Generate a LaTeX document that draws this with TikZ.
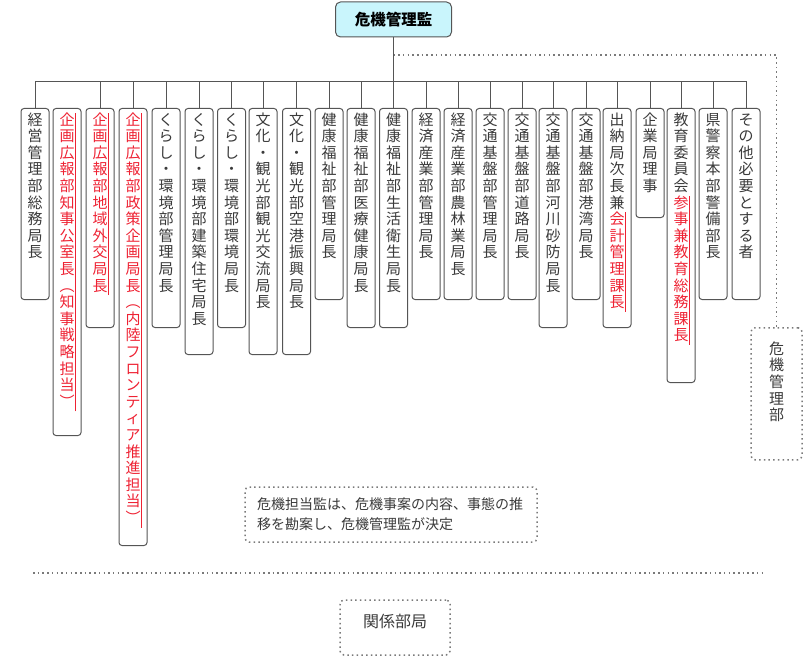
\documentclass[tikz,border=0pt]{standalone}
\usepackage{fontspec}
\setmainfont{Noto Sans CJK JP}

\definecolor{kline}{HTML}{555555}
\definecolor{ktext}{HTML}{3A3A3A}
\definecolor{kred}{HTML}{EE2233}
\definecolor{kcyan}{HTML}{C9F5FC}
\definecolor{kdot}{HTML}{7A7A7A}

\newcommand\vchar[1]{\hbox to 15pt{\vrule height 12.6pt depth 4pt width 0pt\hss#1\hss}}
\newcommand\vcharr[1]{\hbox to 15pt{\vrule height 12.6pt depth 4pt width 0pt\hss\textcolor{kred}{#1}\hss
    \rlap{\color{kred}\vrule height 12.6pt depth 4pt width 0.7pt}}}
\def\vtloop#1{\ifx#1\relax\else\vchar{#1}\expandafter\vtloop\fi}
\def\vtrloop#1{\ifx#1\relax\else\vcharr{#1}\expandafter\vtrloop\fi}
\newcommand\vt[1]{\vtloop#1\relax}
\newcommand\vtr[1]{\vtrloop#1\relax}
\newcommand\vcol[2]{\vbox to #1{\lineskiplimit=-100pt\baselineskip=16.6pt\vskip 4pt #2\vfil}}

\begin{document}
\begin{tikzpicture}[x=1pt,y=-1pt,
    postbox/.style={draw=kline, line width=1pt, rounded corners=3pt, inner sep=0pt,
      minimum width=28pt, anchor=north, text=ktext, font=\fontsize{15pt}{16.6pt}\selectfont},
    chiefbox/.style={draw=kline, line width=1pt, fill=kcyan, rounded corners=5pt,
      minimum width=116pt, minimum height=35pt, text=black,
      font=\bfseries\fontsize{15.5pt}{18pt}\selectfont},
    conn/.style={draw=kline, line width=1pt},
    dotline/.style={draw=kdot, line width=1.5pt, dash pattern=on 1.5pt off 3.2pt},
    dotbox/.style={dotline, rounded corners=4pt, inner sep=0pt, text=ktext}]

  \useasboundingbox (0,0) rectangle (810,658);

  \node[chiefbox] (chief) at (393.5,19.5) {危機管理監};

  \node[postbox] (b1) at (35,108) {\vcol{191pt}{\vt{経営管理部総務局長}}};
  \node[postbox] (b2) at (67,108) {\vcol{327pt}{\vtr{企画広報部知事公室長︵知事戦略担当︶}}};
  \node[postbox] (b3) at (100,108) {\vcol{219pt}{\vtr{企画広報部地域外交局長}}};
  \node[postbox] (b4) at (133,108)
        {\vcol{437pt}{\vtr{企画広報部政策企画局長︵内陸フロンティア推進担当︶}}};
  \node[postbox] (b5) at (166,108) {\vcol{219pt}{\vt{くらし・環境部管理局長}}};
  \node[postbox] (b6) at (199,108) {\vcol{246pt}{\vt{くらし・環境部建築住宅局長}}};
  \node[postbox] (b7) at (231.5,108) {\vcol{219pt}{\vt{くらし・環境部環境局長}}};
  \node[postbox] (b8) at (263,108) {\vcol{246pt}{\vt{文化・観光部観光交流局長}}};
  \node[postbox] (b9) at (296.5,108) {\vcol{246pt}{\vt{文化・観光部空港振興局長}}};
  \node[postbox] (b10) at (329,108) {\vcol{191pt}{\vt{健康福祉部管理局長}}};
  \node[postbox] (b11) at (361,108) {\vcol{219pt}{\vt{健康福祉部医療健康局長}}};
  \node[postbox] (b12) at (393.5,108) {\vcol{219pt}{\vt{健康福祉部生活衛生局長}}};
  \node[postbox] (b13) at (426,108) {\vcol{191pt}{\vt{経済産業部管理局長}}};
  \node[postbox] (b14) at (458,108) {\vcol{191pt}{\vt{経済産業部農林業局長}}};
  \node[postbox] (b15) at (490,108) {\vcol{191pt}{\vt{交通基盤部管理局長}}};
  \node[postbox] (b16) at (522,108) {\vcol{191pt}{\vt{交通基盤部道路局長}}};
  \node[postbox] (b17) at (553,108) {\vcol{219pt}{\vt{交通基盤部河川砂防局長}}};
  \node[postbox] (b18) at (586,108) {\vcol{191pt}{\vt{交通基盤部港湾局長}}};
  \node[postbox] (b19) at (617,108) {\vcol{219pt}{\vt{出納局次長兼}\vtr{会計管理課長}}};
  \node[postbox] (b20) at (650,108) {\vcol{109pt}{\vt{企業局理事}}};
  \node[postbox] (b21) at (681,108) {\vcol{274pt}{\vt{教育委員会}\vtr{参事兼教育総務課長}}};
  \node[postbox] (b22) at (713,108) {\vcol{191pt}{\vt{県警察本部警備部長}}};
  \node[postbox] (b23) at (746,108) {\vcol{191pt}{\vt{その他必要とする者}}};

  \coordinate (bar) at (0,82); \coordinate (tap) at (393.5,55);

  \draw[conn] (chief.south) -- (b12.north); \draw[conn] (b1.north) --
        (b1.north |- bar) -- (b23.north |- bar) -- (b23.north);
  \draw[conn] (b3.north) -- (b3.north |- bar); \draw[conn] (b4.north)
        -- (b4.north |- bar); \draw[conn] (b5.north) -- (b5.north |- bar);
        \draw[conn] (b6.north) -- (b6.north |- bar); \draw[conn]
        (b7.north) -- (b7.north |- bar); \draw[conn] (b8.north) --
        (b8.north |- bar); \draw[conn] (b9.north) -- (b9.north |- bar);
        \draw[conn] (b10.north) -- (b10.north |- bar); \draw[conn]
        (b11.north) -- (b11.north |- bar);
  \draw[conn] (b13.north) -- (b13.north |- bar); \draw[conn] (b14.north)
        -- (b14.north |- bar); \draw[conn] (b15.north) -- (b15.north |-
        bar); \draw[conn] (b16.north) -- (b16.north |- bar); \draw[conn]
        (b17.north) -- (b17.north |- bar); \draw[conn] (b18.north) --
        (b18.north |- bar); \draw[conn] (b19.north) -- (b19.north |- bar);
        \draw[conn] (b20.north) -- (b20.north |- bar); \draw[conn]
        (b21.north) -- (b21.north |- bar); \draw[conn] (b22.north) --
        (b22.north |- bar);

  \node[dotbox, minimum width=51pt, anchor=north, font=\fontsize{15pt}{16pt}\selectfont]
        (kiki) at (776.5,327) {\vcol{132pt}{\vskip 10pt\vt{危機管理部}}};
  \draw[dotline] (tap) -| (kiki.north);

  \node[dotbox, minimum width=292pt, minimum height=55pt, text width=268pt, align=left,
        font=\fontsize{14pt}{20pt}\selectfont] (note) at (391,514.5)
        {危機担当監は、危機事案の内容、事態の推\\移を勘案し、危機管理監が決定};

  \coordinate (sepl) at (33,573); \coordinate (sepr) at (762,573);
  \draw[dotline] (sepl) -- (sepr);

  \node[dotbox, minimum width=110pt, minimum height=55pt, text height=12pt, text depth=12pt,
        font=\fontsize{16pt}{18pt}\selectfont] (rel) at (395,627.5) {関係部局};
\end{tikzpicture}
\end{document}
